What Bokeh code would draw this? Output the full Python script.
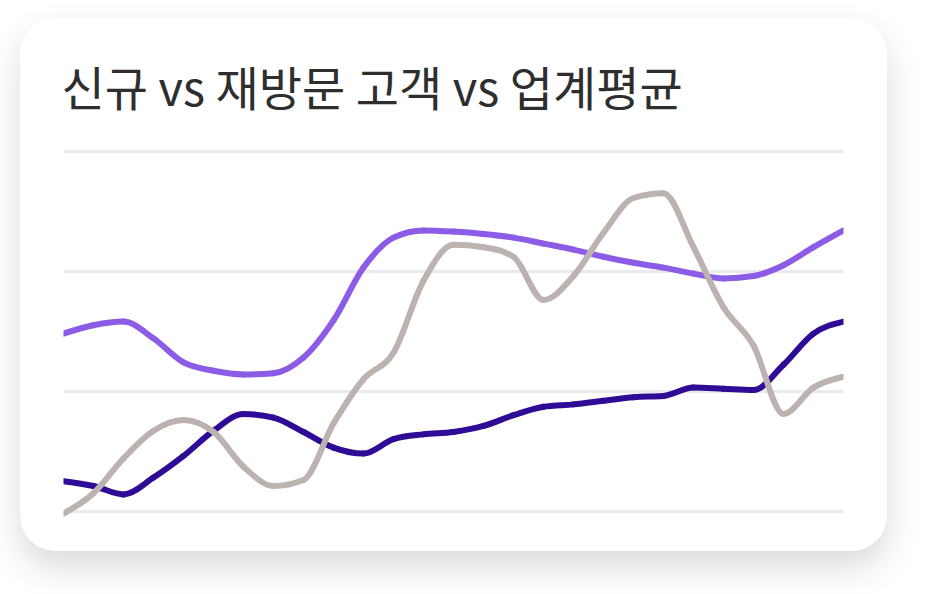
import numpy as np
from bokeh.plotting import figure
from bokeh.layouts import column, row
from bokeh.models import Range1d, FixedTicker, Spacer
from bokeh.embed import file_html
from bokeh.resources import INLINE

# ---- data (gridlines at 0, 100, 200, 300) ----
periods = list(range(27))
new_customers = [148, 155, 158, 144, 124, 117, 114, 115, 128, 159, 203, 228, 234, 233,
                 231, 228, 223, 218, 212, 207, 203, 198, 194, 196, 205, 220, 234]
returning_customers = [25, 21, 14, 28, 46, 67, 81, 78, 66, 53, 48, 60, 64, 66,
                       71, 80, 87, 89, 92, 95, 96, 103, 102, 101, 122, 148, 158]
industry_avg = [-2, 15, 44, 67, 76, 66, 37, 21, 26, 73, 110, 132, 192, 222,
                220, 212, 176, 196, 232, 261, 265, 220, 170, 138, 81, 103, 112]
grid_ticks = [0, 100, 200, 300]
title_text = "신규 vs 재방문 고객 vs 업계평균"

series = [
    (new_customers, "#8c5ce6"),
    (returning_customers, "#2f0b96"),
    (industry_avg, "#bcb3b1"),
]


def monotone_bezier(xs, ys):
    """Monotone cubic (Fritsch-Carlson) segments as cubic Bezier control points."""
    x = np.asarray(xs, float)
    y = np.asarray(ys, float)
    h = np.diff(x)
    s = np.diff(y) / h
    n = len(x)
    t = np.zeros(n)
    for i in range(1, n - 1):
        s0, s1 = s[i - 1], s[i]
        if s0 * s1 <= 0:
            t[i] = 0.0
        else:
            p = (s0 * h[i] + s1 * h[i - 1]) / (h[i - 1] + h[i])
            t[i] = (np.sign(s0) + np.sign(s1)) * min(abs(s0), abs(s1), 0.5 * abs(p))
    a = (3 * s[0] - t[1]) / 2
    t[0] = a if s[0] * a > 0 else 0.0
    b = (3 * s[-1] - t[-2]) / 2
    t[-1] = b if s[-1] * b > 0 else 0.0
    x0, x1 = x[:-1], x[1:]
    y0, y1 = y[:-1], y[1:]
    return dict(x0=x0, y0=y0, x1=x1, y1=y1,
                cx0=x0 + h / 3, cy0=y0 + t[:-1] * h / 3,
                cx1=x1 - h / 3, cy1=y1 - t[1:] * h / 3)


W, H = 867, 533
p = figure(width=W, height=H, output_backend="svg", toolbar_location=None,
           x_range=Range1d(0, 26), y_range=Range1d(-16.1, 317.25),
           min_border_left=43, min_border_right=44, min_border_top=112, min_border_bottom=21)
p.styles = {"border-radius": "36px", "overflow": "hidden", "background-color": "white",
            "box-shadow": "0 16px 34px rgba(0,0,0,0.15)"}
p.border_fill_color = "white"
p.background_fill_color = "white"
p.outline_line_color = None
p.axis.visible = False
p.xgrid.visible = False
p.ygrid.ticker = FixedTicker(ticks=grid_ticks)
p.ygrid.grid_line_color = "#eaeaee"
p.ygrid.grid_line_width = 3

p.title.text = title_text
p.title.text_font = "Noto Sans CJK KR"
p.title.text_font_size = "47px"
p.title.text_font_style = "normal"
p.title.text_color = "#2e2e2e"
p.title.align = "left"
p.title.offset = -2
p.title.standoff = 21

for vals, color in series:
    seg = monotone_bezier(periods, vals)
    p.bezier(x0="x0", y0="y0", x1="x1", y1="y1", cx0="cx0", cy0="cy0", cx1="cx1", cy1="cy1",
             source=seg, line_color=color, line_width=6, line_cap="round")

layout = column(Spacer(width=10, height=18), row(Spacer(width=20, height=10), p))
open("out.html", "w").write(file_html(layout, INLINE))
